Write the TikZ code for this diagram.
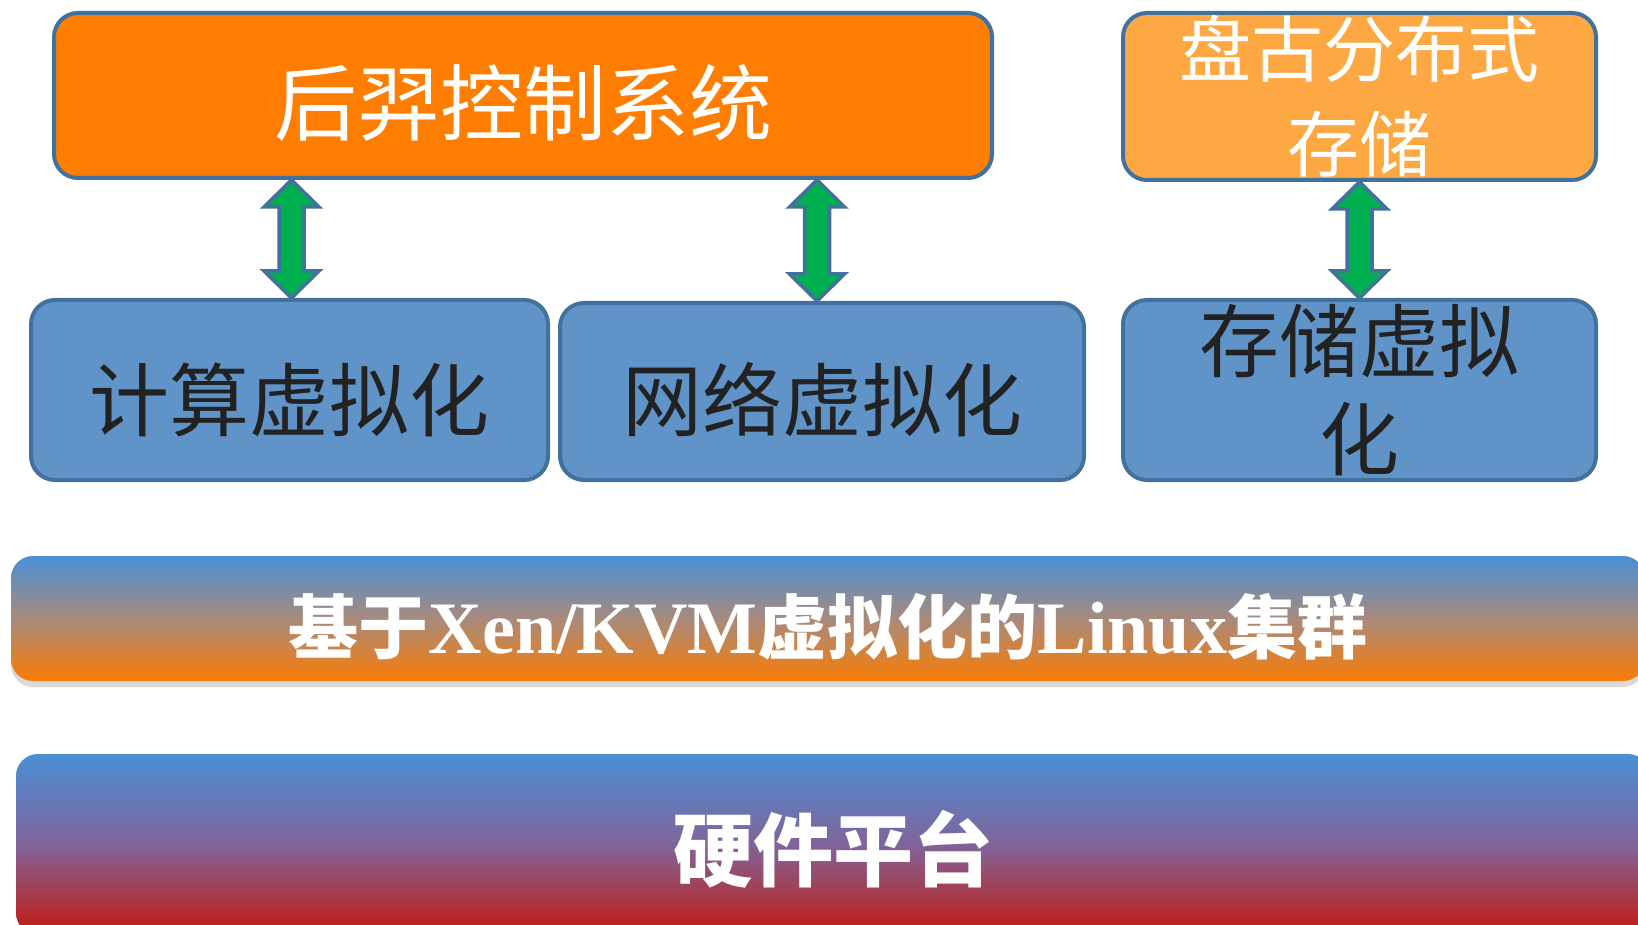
\documentclass[tikz,border=0pt]{standalone}
\usepackage{fontspec}
\setmainfont{Liberation Serif}
\newfontfamily\cjk{Noto Sans CJK SC}
\usepackage{tikz}
\usetikzlibrary{calc}
\usetikzlibrary{shadows}

\definecolor{hyorange}{HTML}{FF7D00}
\definecolor{pgorange}{HTML}{FDA842}
\definecolor{vblue}{HTML}{6094C8}
\definecolor{edgeblue}{HTML}{41719C}
\definecolor{arrgreen}{HTML}{00B050}
\definecolor{txtdark}{HTML}{222222}
\definecolor{topblue}{HTML}{4A8FD6}
\definecolor{midbrown}{HTML}{A88A7C}
\definecolor{lxorange}{HTML}{F97C05}
\definecolor{midpurple}{HTML}{80649A}
\definecolor{hwred}{HTML}{C4190C}

\begin{document}
\begin{tikzpicture}[x=1pt,y=-1pt,
    box/.style={draw=edgeblue,line width=4pt,rounded corners=24pt,inner sep=0pt,font=\cjk},
    lowtext/.style={text height=#1,text depth=0pt},
    band/.style={rounded corners=22pt,inner sep=0pt,text=white,font=\cjk\bfseries},
    dblarr/.style={draw=edgeblue,fill=arrgreen,line width=3.5pt}]
  \useasboundingbox (0,0) rectangle (1638,925);
  \clip (0,0) rectangle (1638,925);
  % control and storage
  \node[box,fill=hyorange,text=white,lowtext=79pt,minimum width=938pt,minimum height=165pt,
        font=\cjk\fontsize{83}{96}\selectfont] (hy) at (523,95.5) {后羿控制系统};
  \node[box,fill=pgorange,text=white,align=center,minimum width=473pt,minimum height=167pt,
        font=\cjk\fontsize{72}{89}\selectfont] (pg) at (1359.5,96.5) {盘古分布式\\[6pt]存储};
  % virtualisation
  \node[box,fill=vblue,text=txtdark,lowtext=81pt,minimum width=517pt,minimum height=180pt,
        font=\cjk\fontsize{80}{94}\selectfont] (js) at (289.5,390) {计算虚拟化};
  \node[box,fill=vblue,text=txtdark,lowtext=78pt,minimum width=524pt,minimum height=177pt,
        font=\cjk\fontsize{80}{94}\selectfont] (wl) at (822,391.5) {网络虚拟化};
  \node[box,fill=vblue,text=txtdark,align=center,minimum width=473pt,minimum height=180pt,
        font=\cjk\fontsize{80}{94}\selectfont] (cc) at (1359.5,390) {存储虚拟\\[4pt]化};
  % arrows
  \foreach \a/\b/\dx in {hy/js/2,hy/wl/-5,pg/cc/0}{
    \coordinate (bot) at ($(\b.north)+(\dx,0)$);
    \coordinate (top) at (bot |- \a.south);
    \draw[dblarr] (top) -- ++(27.5,27) -- ++(-15,0) -- ($(bot)+(12.5,-27)$)
      -- ++(15,0) -- (bot) -- ++(-27.5,-27) -- ++(15,0) -- ($(top)+(-12.5,27)$)
      -- ++(-15,0) -- cycle;
  }
  % cluster and hardware
  \node[band,top color=topblue,bottom color=lxorange,middle color=midbrown,
        drop shadow={opacity=.3,shadow xshift=0pt,shadow yshift=-6pt},
        lowtext=70pt,minimum width=1634pt,minimum height=125pt,
        font=\cjk\bfseries\fontsize{70}{80}\selectfont] (lx) at (828,618.5)
    {基于{\rmfamily\bfseries\fontsize{74}{80}\selectfont Xen/KVM}虚拟化的{\rmfamily\bfseries\fontsize{74}{80}\selectfont Linux}集群};
  \node[band,top color=topblue,bottom color=hwred,middle color=midpurple,
        lowtext=72pt,minimum width=1634pt,minimum height=181pt,
        font=\cjk\bfseries\fontsize{80}{94}\selectfont] (hw) at (833,844.5) {硬件平台};
\end{tikzpicture}
\end{document}
